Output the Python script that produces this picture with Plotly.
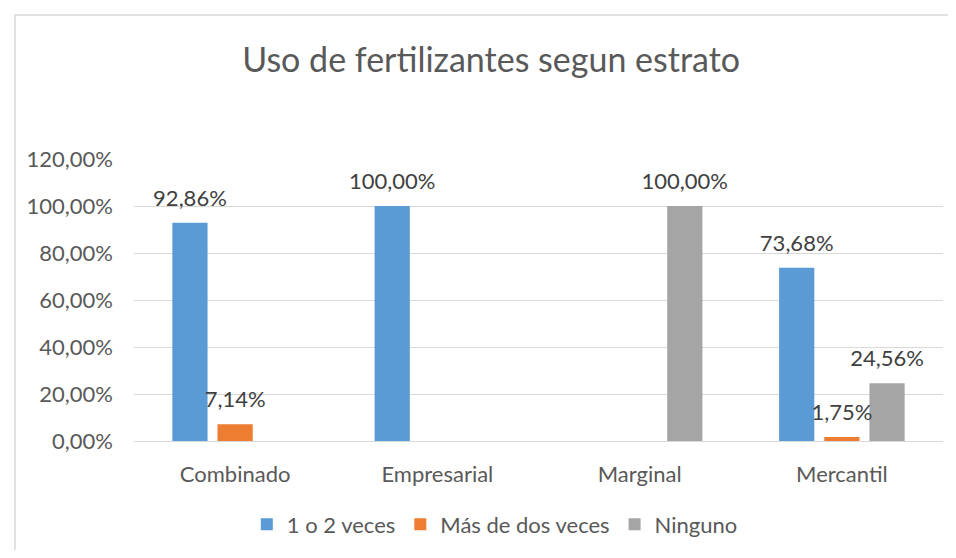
import plotly.graph_objects as go

# categories and series values (fractions)
estratos = ["Combinado", "Empresarial", "Marginal", "Mercantil"]
uno_o_dos = [0.9286, 1.0, 0.0, 0.7368]
mas_de_dos = [0.0714, 0.0, 0.0, 0.0175]
ninguno = [0.0, 0.0, 1.0, 0.2456]

series = [
    ("1 o 2 veces", uno_o_dos, "#5B9BD5"),
    ("Más de dos veces", mas_de_dos, "#ED7D31"),
    ("Ninguno", ninguno, "#A5A5A5"),
]

def pct_labels(vals):
    # Excel style labels, zero labels hidden
    return [f"{v * 100:.2f}%".replace(".", ",") if v > 0 else "" for v in vals]

font_family = "Lato, 'Open Sans', sans-serif"
fs = 22

fig = go.Figure()
for i, (name, vals, color) in enumerate(series):
    fig.add_trace(go.Bar(
        x=estratos, y=vals, name=name, offsetgroup=str(i),
        marker=dict(color=color, line=dict(width=0)),
    ))
# data labels as a text layer grouped like the bars, lifted by an invisible marker
for i, (name, vals, color) in enumerate(series):
    fig.add_trace(go.Scatter(
        x=estratos, y=vals, offsetgroup=str(i), mode="markers+text",
        marker=dict(size=17, opacity=0), text=pct_labels(vals),
        textposition="top center", showlegend=False, hoverinfo="skip",
        textfont=dict(size=fs, color="#404040", family=font_family),
        cliponaxis=False,
    ))

# chart frame like the Excel chart area
fig.add_shape(type="rect", xref="paper", yref="paper",
              x0=(15 - 134) / 809, x1=1.2, y0=-0.6, y1=(443 - 14) / 284,
              line=dict(color="#D9D9D9", width=1.5), fillcolor="rgba(0,0,0,0)")

fig.update_layout(
    width=940, height=542,
    margin=dict(l=126, r=5, t=151, b=107),
    paper_bgcolor="white", plot_bgcolor="white",
    separators=",.",
    barmode="group", bargap=0.33, bargroupgap=0.22,
    scattermode="group", scattergap=0.33,
    font=dict(family=font_family, color="#595959", size=fs),
    title=dict(text="Uso de fertilizantes segun estrato",
               x=0.514, xanchor="center", y=0.904, yanchor="middle",
               font=dict(size=34, color="#595959", family=font_family)),
    legend=dict(orientation="h", x=0.446, xanchor="center", y=-0.296, yanchor="middle",
                font=dict(size=fs, color="#595959"), itemwidth=30),
    showlegend=True,
)
fig.update_yaxes(range=[0, 1.2], dtick=0.2, tickformat=".2%",
                 gridcolor="#D9D9D9", gridwidth=1, zeroline=False,
                 showline=False, ticks="", ticklabelstandoff=20,
                 tickfont=dict(size=fs, color="#595959"))
fig.update_xaxes(showline=True, linecolor="#D9D9D9", linewidth=1, ticks="",
                 ticklabelstandoff=14,
                 tickfont=dict(size=fs, color="#595959"))

fig.write_html("out.html")
